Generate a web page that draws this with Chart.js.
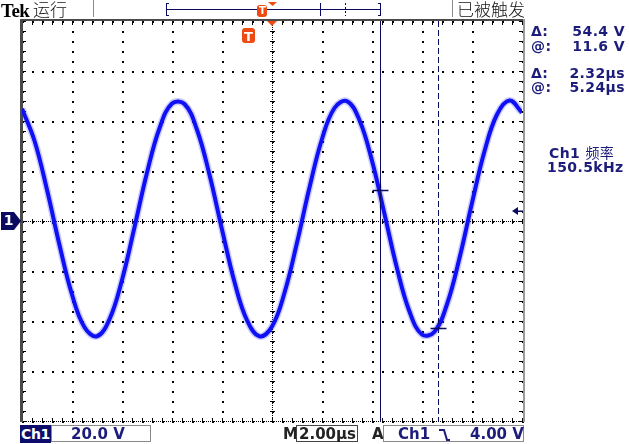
<!DOCTYPE html>
<html>
<head>
<meta charset="utf-8">
<script src="https://cdn.jsdelivr.net/npm/chart.js@4.4.0/dist/chart.umd.min.js"></script>
<style>
html, body { margin: 0; padding: 0; background: #fff; }
#wrap { position: relative; width: 629px; height: 444px; overflow: hidden; font-family: "DejaVu Sans", sans-serif; }
#scope { position: absolute; left: 0; top: 0; }
.t { position: absolute; white-space: nowrap; line-height: 1; }
.ro { color: #1c1c7a; font-size: 14px; font-weight: 600; letter-spacing: 0.4px; }
.val { text-align: right; width: 80px; left: 545px; }
.cjk { font-family: "Noto Sans CJK SC", sans-serif; font-weight: 300; font-size: 17px; color: #111; }
.box { position: absolute; top: 425px; height: 17px; border: 1px solid #8a8a8a; box-sizing: border-box; }
.bt { font-size: 15px; top: 427px; font-weight: 600; letter-spacing: 0; }
</style>
</head>
<body>
<div id="wrap">
  <canvas id="scope" width="629" height="444"></canvas>

  <div class="t" style="left:1px;top:1px;font-family:'Liberation Serif',serif;font-weight:bold;font-size:19px;letter-spacing:-0.5px;color:#000;">Tek</div>
  <div class="t cjk" style="left:33px;top:0px;">运行</div>
  <div class="t cjk" style="left:457px;top:0px;">已被触发</div>

  <div class="t ro" style="left:531px;top:24px;">Δ:</div>
  <div class="t ro val" style="top:24px;">54.4 V</div>
  <div class="t ro" style="left:531px;top:39px;">@:</div>
  <div class="t ro val" style="top:39px;">11.6 V</div>
  <div class="t ro" style="left:531px;top:66px;">Δ:</div>
  <div class="t ro val" style="top:66px;">2.32µs</div>
  <div class="t ro" style="left:531px;top:80px;">@:</div>
  <div class="t ro val" style="top:80px;">5.24µs</div>
  <div class="t ro" style="left:549px;top:145px;">Ch1 <span style="font-family:'Noto Sans CJK SC',sans-serif;font-weight:400;">频率</span></div>
  <div class="t ro" style="left:547px;top:160px;">150.5kHz</div>

  <div class="t" style="left:2px;top:213px;width:13px;text-align:center;color:#fff;font-weight:bold;font-size:14px;z-index:2;">1</div>
  <div class="t" style="left:243px;top:30px;width:11px;text-align:center;color:#fff;font-weight:bold;font-size:13px;">T</div>
  <div class="t" style="left:258px;top:6px;width:9px;text-align:center;color:#fff;font-weight:bold;font-size:10px;">T</div>

  <div class="t" style="left:20px;top:425px;width:31px;height:18px;background:#0c0c6c;color:#fff;font-weight:bold;font-size:14px;padding-top:2px;box-sizing:border-box;text-align:center;letter-spacing:-0.3px;">Ch1</div>
  <div class="box" style="left:51px;width:100px;"></div>
  <div class="t bt" style="left:71px;color:#1c1c7a;">20.0 V</div>
  <div class="t bt" style="left:283px;color:#222;">M</div>
  <div class="box" style="left:296px;width:62px;border-color:#444;"></div>
  <div class="t bt" style="left:299px;color:#222;">2.00µs</div>
  <div class="t bt" style="left:372px;color:#222;">A</div>
  <div class="box" style="left:383px;width:141px;"></div>
  <div class="t bt" style="left:398px;color:#1c1c7a;">Ch1</div>
  <svg class="t" style="left:438px;top:428px;" width="14" height="14"><polyline points="1,2 6,2 9,12 12,12" fill="none" stroke="#1c1c7a" stroke-width="2"/></svg>
  <div class="t bt" style="left:470px;color:#1c1c7a;">4.00 V</div>
</div>

<script>
const timeUs = [-10, -9.5, -9, -8.5, -8, -7.5, -7, -6.5, -6, -5.5, -5, -4.5, -4, -3.5, -3, -2.5, -2, -1.5, -1, -0.5,
  0, 0.5, 1, 1.5, 2, 2.5, 3, 3.5, 4, 4.5, 5, 5.5, 6, 6.5, 7, 7.5, 8, 8.5, 9, 9.5, 10];
const ch1Volts = [44.9, 32.1, 12.5, -9.6, -29.4, -42.5, -46.1, -39.3, -23.6, -2.5, 19.3, 37.1, 47.0, 46.8, 36.5, 18.5, -3.4, -24.4, -39.7, -46.1,
  -42.2, -28.7, -8.7, 13.4, 32.8, 45.2, 47.9, 40.3, 24.1, 2.8, -18.9, -36.2, -45.4, -44.3, -33.3, -14.8, 7.2, 27.9, 42.6, 48.2, 43.4];

// Retícula: 10 divisiones x 8 divisiones (2 µs/div, 20 V/div)
const xTicks = [-10, -8, -6, -4, -2, 0, 2, 4, 6, 8, 10];
const yTicks = [-80, -60, -40, -20, 0, 20, 40, 60, 80];

// Cursores
const cursorTimes = [4.32, 6.64];
const cursorVolts = [12.4, -42.8];
const triggerLevel = 4.0;

const NAVY = '#0a0a60';
const ORANGE = '#f04a14';

const graticule = {
  id: 'graticule',
  beforeDatasetsDraw(chart) {
    const { ctx, chartArea: a, scales: { x, y } } = chart;
    ctx.save();
    ctx.fillStyle = '#000';
    // líneas principales punteadas
    for (const tv of xTicks) {
      const px = Math.round(x.getPixelForValue(tv));
      for (let v = -80; v <= 80; v += 4) {
        ctx.fillRect(px, Math.round(y.getPixelForValue(v)), 2, 2);
      }
    }
    for (const vv of yTicks) {
      const py = Math.round(y.getPixelForValue(vv));
      for (let t = -10; t <= 10.001; t += 0.4) {
        ctx.fillRect(Math.round(x.getPixelForValue(t)), py, 2, 2);
      }
    }
    // cruz central con marcas
    const cx = Math.round(x.getPixelForValue(0));
    const cy = Math.round(y.getPixelForValue(0));
    for (let px = a.left; px < a.right; px += 2) ctx.fillRect(px, cy, 1, 1);
    for (let py = a.top; py < a.bottom; py += 2) ctx.fillRect(cx, py, 1, 1);
    for (let t = -10; t <= 10.001; t += 0.4) ctx.fillRect(Math.round(x.getPixelForValue(t)), cy - 2, 1, 5);
    for (let v = -80; v <= 80; v += 4) ctx.fillRect(cx - 2, Math.round(y.getPixelForValue(v)), 5, 1);
    // marcas en los bordes
    for (let t = -10; t <= 10.001; t += 0.4) {
      const px = Math.round(x.getPixelForValue(t));
      ctx.fillRect(px, a.top + 1, 1, 3);
      ctx.fillRect(px, a.bottom - 3, 1, 3);
    }
    for (let v = -80; v <= 80; v += 4) {
      const py = Math.round(y.getPixelForValue(v));
      ctx.fillRect(a.left + 1, py, 3, 1);
      ctx.fillRect(a.right - 3, py, 3, 1);
    }
    for (let px = a.left; px < a.right; px += 2) ctx.fillRect(px, a.bottom, 1, 1);
    // bordes grises
    ctx.fillStyle = '#4a4a4a';
    ctx.fillRect(a.left - 2, a.top - 2, 3, a.bottom - a.top + 3);
    ctx.fillRect(a.left - 2, a.top - 2, a.right - a.left + 5, 2);
    ctx.fillStyle = '#9a9a9a';
    ctx.fillRect(a.right + 1, a.top - 2, 2, a.bottom - a.top + 3);
    ctx.restore();
  },
  afterDatasetsDraw(chart) {
    const { ctx, chartArea: a, scales: { x, y } } = chart;
    ctx.save();
    ctx.strokeStyle = NAVY;
    ctx.lineWidth = 1;
    // cursores verticales
    cursorTimes.forEach((t, i) => {
      const px = Math.round(x.getPixelForValue(t)) + 0.5;
      ctx.setLineDash(i === 0 ? [] : [6, 3]);
      ctx.beginPath();
      ctx.moveTo(px, a.top);
      ctx.lineTo(px, a.bottom + 1);
      ctx.stroke();
      const py = Math.round(y.getPixelForValue(cursorVolts[i])) + 0.5;
      ctx.setLineDash([]);
      ctx.lineWidth = 1.5;
      ctx.beginPath();
      ctx.moveTo(px - 8, py);
      ctx.lineTo(px + 8, py);
      ctx.stroke();
      ctx.lineWidth = 1;
    });
    // marcador de canal 1
    const gy = y.getPixelForValue(0);
    ctx.fillStyle = NAVY;
    ctx.beginPath();
    ctx.moveTo(1, gy - 9); ctx.lineTo(14, gy - 9); ctx.lineTo(a.left - 1, gy);
    ctx.lineTo(14, gy + 9); ctx.lineTo(1, gy + 9); ctx.closePath();
    ctx.fill();
    // nivel de disparo
    const ty = y.getPixelForValue(triggerLevel);
    ctx.beginPath();
    ctx.moveTo(a.right - 10, ty); ctx.lineTo(a.right - 4, ty - 4); ctx.lineTo(a.right - 4, ty + 4); ctx.closePath();
    ctx.fill();
    ctx.fillRect(a.right - 4, ty - 0.5, 5, 1.5);
    // posición de disparo
    const tx = x.getPixelForValue(0);
    ctx.fillStyle = ORANGE;
    ctx.beginPath();
    ctx.moveTo(tx - 5, a.top); ctx.lineTo(tx + 5, a.top); ctx.lineTo(tx, a.top + 5); ctx.closePath();
    ctx.fill();
    ctx.beginPath();
    ctx.roundRect(242, 28, 13, 15, 3);
    ctx.fill();
    ctx.restore();
  },
  afterDraw(chart) {
    const { ctx } = chart;
    ctx.save();
    // separadores de la barra superior
    ctx.fillStyle = '#8a8a8a';
    ctx.fillRect(93, 0, 1, 17);
    ctx.fillRect(452, 0, 1, 17);
    // barra de registro
    ctx.strokeStyle = NAVY;
    ctx.lineWidth = 1;
    ctx.beginPath();
    ctx.moveTo(166, 9.5); ctx.lineTo(380, 9.5);
    ctx.moveTo(166.5, 3); ctx.lineTo(166.5, 16); ctx.moveTo(166, 3.5); ctx.lineTo(169, 3.5); ctx.moveTo(166, 15.5); ctx.lineTo(169, 15.5);
    ctx.moveTo(380.5, 3); ctx.lineTo(380.5, 16); ctx.moveTo(378, 3.5); ctx.lineTo(381, 3.5); ctx.moveTo(378, 15.5); ctx.lineTo(381, 15.5);
    ctx.moveTo(320.5, 3); ctx.lineTo(320.5, 16);
    ctx.stroke();
    ctx.setLineDash([2, 2]);
    ctx.beginPath();
    ctx.moveTo(345.5, 3); ctx.lineTo(345.5, 16);
    ctx.stroke();
    ctx.setLineDash([]);
    ctx.fillStyle = ORANGE;
    ctx.beginPath();
    ctx.roundRect(257, 5, 10, 12, 3);
    ctx.fill();
    ctx.beginPath();
    ctx.moveTo(268, 2); ctx.lineTo(277, 2); ctx.lineTo(272.5, 6); ctx.closePath();
    ctx.fill();
    ctx.restore();
  }
};

const points = timeUs.map((t, i) => ({ x: t, y: ch1Volts[i] }));

new Chart(document.getElementById('scope'), {
  type: 'line',
  data: {
    datasets: [
      { data: points, borderColor: '#1010f4', borderWidth: 4, tension: 0.4, pointRadius: 0 },
      { data: points, borderColor: 'rgba(70,70,255,0.28)', borderWidth: 7, tension: 0.4, pointRadius: 0 }
    ]
  },
  options: {
    responsive: false,
    animation: false,
    layout: { padding: { left: 22, top: 21, right: 107, bottom: 23 } },
    plugins: { legend: { display: false }, tooltip: { enabled: false } },
    scales: {
      x: { type: 'linear', min: -10, max: 10, display: false },
      y: { type: 'linear', min: -80, max: 80, display: false }
    }
  },
  plugins: [graticule]
});
</script>
</body>
</html>
